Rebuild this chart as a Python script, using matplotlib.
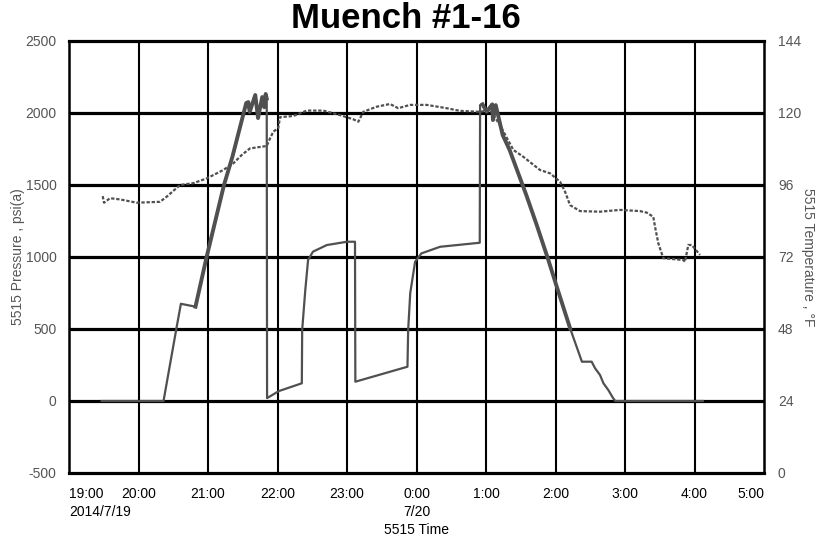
import matplotlib
matplotlib.use("Agg")
import matplotlib.pyplot as plt
from matplotlib import font_manager as fm

# ---------------- data ----------------
# hours after 2014/7/19 19:00
p_hours = [0.47, 1.36, 1.55, 1.61, 1.82, 1.98, 2.23, 2.35, 2.55, 2.58, 2.60, 2.68, 2.72,
           2.78, 2.81, 2.83, 2.845, 2.85, 3.02, 3.35, 3.355, 3.40, 3.44, 3.51, 3.71, 4.00,
           4.115, 4.12, 4.87, 4.88, 4.91, 4.98, 5.07, 5.34, 5.91, 5.915, 5.95, 6.01, 6.09,
           6.10, 6.14, 6.24, 6.34, 6.58, 6.73, 6.89, 7.01, 7.21, 7.38, 7.52, 7.57, 7.64,
           7.69, 7.76, 7.83, 7.86, 9.12]
pressure = [0, 0, 516, 675, 655, 1000, 1500, 1694, 2069, 2076, 2007, 2125, 1965,
            2111, 2040, 2132, 2100, 20, 69, 123, 493, 771, 979, 1037, 1083, 1106,
            1106, 134, 238, 493, 750, 967, 1025, 1071, 1099, 2055, 2060, 2009, 2060,
            1951, 2055, 1847, 1743, 1430, 1222, 990, 806, 505, 273, 273, 227, 181,
            123, 76, 19, 0, 0]
# noisy (thick) stretches of the pressure trace, as index ranges
thick_ranges = [(4, 17), (36, 48)]

t_hours = [0.485, 0.504, 0.59, 0.734, 0.974, 1.309, 1.406, 1.597, 1.788, 1.981, 2.076,
           2.22, 2.364, 2.485, 2.604, 2.845, 2.882, 2.94, 3.01, 3.036, 3.227, 3.42,
           3.659, 3.899, 4.09, 4.163, 4.235, 4.427, 4.619, 4.738, 4.906, 5.147, 5.434,
           5.626, 5.914, 6.058, 6.2, 6.393, 6.537, 6.777, 6.921, 7.065, 7.137, 7.209,
           7.353, 7.64, 7.928, 8.216, 8.312, 8.407, 8.432, 8.479, 8.551, 8.839, 8.863,
           8.911, 8.96, 9.079]
temperature = [92.3, 90.1, 91.6, 91.2, 90.1, 90.4, 92.1, 96.0, 96.6, 98.2, 99.3,
               101.0, 103.2, 106.0, 108.2, 109.0, 111.0, 113.8, 114.9, 118.6, 119.0, 120.8,
               120.8, 119.3, 117.9, 117.1, 120.4, 122.1, 123.0, 121.6, 122.7, 122.7, 121.6,
               120.7, 120.4, 121.0, 116.0, 107.7, 105.4, 101.0, 99.9, 97.1, 93.8, 89.3,
               87.3, 87.1, 87.7, 87.3, 86.8, 85.4, 82.1, 76.6, 71.6, 71.0, 70.4,
               76.0, 76.0, 72.7]

x_ticks = list(range(0, 11))
x_labels = ["19:00", "20:00", "21:00", "22:00", "23:00", "0:00", "1:00", "2:00",
            "3:00", "4:00", "5:00"]
date_labels = {0: "2014/7/19", 5: "7/20"}
p_ticks = [-500, 0, 500, 1000, 1500, 2000, 2500]
t_ticks = [0, 24, 48, 72, 96, 120, 144]

title = "Muench #1-16"
xlabel = "5515 Time"
ylabel_left = "5515 Pressure , psi(a)"
ylabel_right = "5515 Temperature , °F"

# ---------------- fonts ----------------
names = {f.name for f in fm.fontManager.ttflist}
narrow = "Liberation Sans Narrow" if "Liberation Sans Narrow" in names else "Liberation Sans"
plt.rcParams["font.family"] = [narrow, "DejaVu Sans"]

line_col = "#505050"
txt_col = "#555555"
fs = 10

fig = plt.figure(figsize=(8.27, 5.45), dpi=100)
ax = fig.add_axes([69/827, 1-473/545, (764-69)/827, (473-41)/545])
ax2 = ax.twinx()

ax.set_xlim(0, 10)
ax.set_ylim(-500, 2500)
ax2.set_ylim(0, 144)

# grid
for v in x_ticks[1:-1]:
    ax.axvline(v, color="black", lw=1.5, zorder=1)
for v in p_ticks[1:-1]:
    ax.axhline(v, color="black", lw=2.3, zorder=1)

# pressure
ax.plot(p_hours, pressure, color=line_col, lw=1.6, zorder=3)
for a, b in thick_ranges:
    ax.plot(p_hours[a:b], pressure[a:b], color=line_col, lw=2.8, zorder=3)

# temperature
ax2.plot(t_hours, temperature, color=line_col, lw=1.6, ls=(0, (1.5, 0.8)), zorder=3)

# frame
for side, sp in ax.spines.items():
    sp.set_color("black")
    sp.set_linewidth(2.3 if side in ("top", "bottom") else 1.8)
    sp.set_zorder(5)
for sp in ax2.spines.values():
    sp.set_visible(False)

ax.set_xticks(x_ticks)
ax.set_xticklabels([])
ax.tick_params(axis="x", length=0)
ax.set_yticks(p_ticks)
ax.set_yticklabels([str(v) for v in p_ticks])
ax.tick_params(axis="y", length=0, pad=9, labelsize=fs, labelcolor=txt_col)
ax2.set_yticks(t_ticks)
ax2.set_yticklabels([str(v) for v in t_ticks])
ax2.tick_params(axis="y", length=0, pad=10, labelsize=fs, labelcolor=txt_col)

for i, (v, lab) in enumerate(zip(x_ticks, x_labels)):
    ha = "left" if i == 0 else ("right" if i == len(x_ticks) - 1 else "center")
    ax.text(v, -0.033, lab, transform=ax.get_xaxis_transform(), ha=ha, va="top",
            fontsize=fs, color="black")
    if v in date_labels:
        ax.text(v, -0.073, date_labels[v], transform=ax.get_xaxis_transform(),
                ha=ha, va="top", fontsize=fs, color="black")

fig.text((69+764)/2/827, 1-530/545, xlabel, ha="center", va="center", fontsize=fs)
fig.text(18/827, 1-257/545, ylabel_left, rotation=90, ha="center", va="center",
         fontsize=fs, color=txt_col)
fig.text(808/827, 1-257/545, ylabel_right, rotation=270, ha="center", va="center",
         fontsize=fs, color=txt_col)
fig.text(406/827, 1-19/545, title, ha="center", va="center", fontsize=25,
         fontweight="bold")

fig.savefig("out.png", dpi=100)
